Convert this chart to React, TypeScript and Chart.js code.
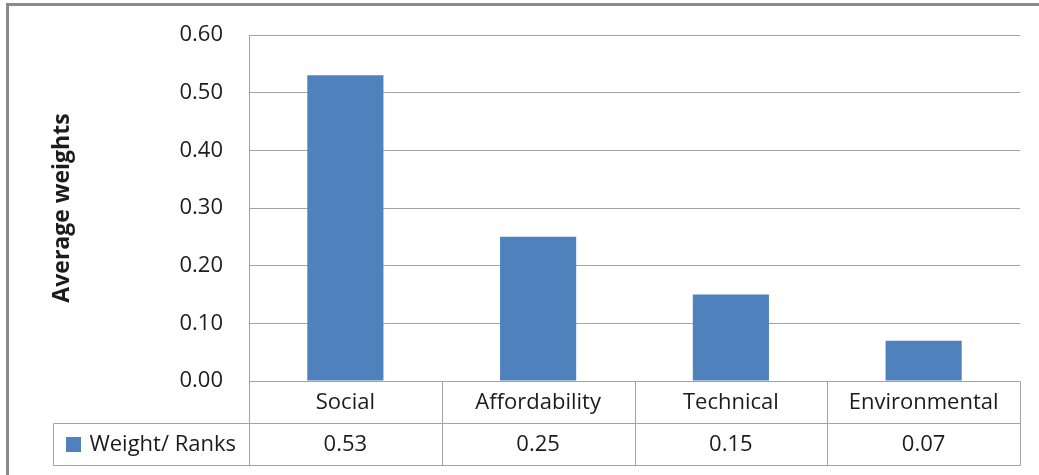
import React, { useEffect, useRef } from "react";
import { Chart, registerables } from "chart.js";

Chart.register(...registerables);

const categories = ["Social", "Affordability", "Technical", "Environmental"];
const weights = [0.53, 0.25, 0.15, 0.07];
const seriesName = "Weight/ Ranks";
const yTicks = [0, 0.1, 0.2, 0.3, 0.4, 0.5, 0.6];
const yTitle = "Average weights";

const FONT = "'Open Sans', 'Noto Sans', sans-serif";
const BAR_COLOR = "#4F81BD";
const LINE_COLOR = "#a3a3a3";
const TEXT_COLOR = "#1c1c1c";

// Outer frame around the whole chart object
const framePlugin = {
  id: "frame",
  beforeDraw(chart: any) {
    const ctx = chart.ctx;
    ctx.save();
    ctx.fillStyle = "#ffffff";
    ctx.fillRect(0, 0, chart.width, chart.height);
    ctx.strokeStyle = "#8a8a8a";
    ctx.lineWidth = 3;
    ctx.strokeRect(7.5, 4.5, chart.width + 20, chart.height + 20);
    ctx.restore();
  },
};

// Data table beneath the plot: category row plus one row of values with legend key
const dataTablePlugin = {
  id: "dataTable",
  afterDraw(chart: any) {
    const ctx = chart.ctx;
    const area = chart.chartArea;
    const xScale = chart.scales.x;
    const n = categories.length;
    const colW = (area.right - area.left) / n;
    const rowH = 42;
    const tableLeft = 53;
    const top = Math.round(area.bottom) + 0.5;
    const mid = top + rowH;
    const bottom = top + 2 * rowH;
    const left = Math.round(area.left) + 0.5;
    const right = Math.round(area.right) + 0.5;

    ctx.save();
    ctx.strokeStyle = LINE_COLOR;
    ctx.lineWidth = 1;
    ctx.beginPath();
    // horizontal rules
    ctx.moveTo(tableLeft + 0.5, mid);
    ctx.lineTo(right, mid);
    ctx.moveTo(tableLeft + 0.5, bottom);
    ctx.lineTo(right, bottom);
    // left edge of the series row
    ctx.moveTo(tableLeft + 0.5, mid);
    ctx.lineTo(tableLeft + 0.5, bottom);
    // column separators
    for (let i = 0; i <= n; i++) {
      const x = Math.round(area.left + i * colW) + 0.5;
      ctx.moveTo(x, top);
      ctx.lineTo(x, bottom);
    }
    ctx.stroke();

    ctx.fillStyle = TEXT_COLOR;
    ctx.font = `22px ${FONT}`;
    ctx.textAlign = "center";
    ctx.textBaseline = "middle";
    categories.forEach((c, i) => {
      const cx = xScale.getPixelForValue(i);
      ctx.fillText(c, cx, top + rowH / 2);
      ctx.fillText(weights[i].toFixed(2), cx, mid + rowH / 2);
    });

    // legend key + series name, centred in the first cell
    const key = 15;
    const gap = 8;
    const tw = ctx.measureText(seriesName).width;
    const total = key + gap + tw;
    const startX = (tableLeft + left) / 2 - total / 2;
    const cy = mid + rowH / 2;
    ctx.fillStyle = BAR_COLOR;
    ctx.fillRect(Math.round(startX), Math.round(cy - key / 2), key, key);
    ctx.fillStyle = TEXT_COLOR;
    ctx.textAlign = "left";
    ctx.fillText(seriesName, startX + key + gap, cy);
    ctx.restore();
  },
};

export default function App() {
  const canvasRef = useRef<HTMLCanvasElement | null>(null);

  useEffect(() => {
    document.body.style.margin = "0";
    const canvas = canvasRef.current;
    if (!canvas) return;
    const chart = new Chart(canvas, {
      type: "bar",
      data: {
        labels: categories,
        datasets: [
          {
            label: seriesName,
            data: weights,
            backgroundColor: BAR_COLOR,
            borderWidth: 0,
            categoryPercentage: 1,
            barPercentage: 0.395,
          },
        ],
      },
      options: {
        responsive: false,
        animation: false,
        devicePixelRatio: 1,
        layout: { padding: { left: 0, top: 35, right: 19, bottom: 94 } },
        plugins: {
          legend: { display: false },
          tooltip: { enabled: false },
          title: { display: false },
        },
        scales: {
          x: {
            display: false,
          },
          y: {
            min: 0,
            max: 0.6,
            afterFit(scale: any) {
              scale.width = 249;
              // plot edges are set by the layout padding alone
              scale.paddingTop = 0;
              scale.paddingBottom = 0;
            },
            afterBuildTicks(scale: any) {
              scale.ticks = yTicks.map((v) => ({ value: v }));
            },
            ticks: {
              padding: 26,
              color: TEXT_COLOR,
              font: { family: FONT, size: 22 },
              callback: (v: any) => Number(v).toFixed(2),
            },
            grid: {
              color: LINE_COLOR,
              lineWidth: 1,
              drawTicks: false,
            },
            border: { display: true, color: LINE_COLOR, width: 1 },
            title: {
              display: true,
              text: yTitle,
              color: TEXT_COLOR,
              font: { family: FONT, size: 23, weight: "bold" },
              padding: { top: 49, bottom: 0 },
            },
          },
        },
      },
      plugins: [framePlugin, dataTablePlugin],
    });
    return () => chart.destroy();
  }, []);

  return (
    <div style={{ width: 1039, height: 475 }}>
      <canvas ref={canvasRef} width={1039} height={475} style={{ display: "block" }} />
    </div>
  );
}
